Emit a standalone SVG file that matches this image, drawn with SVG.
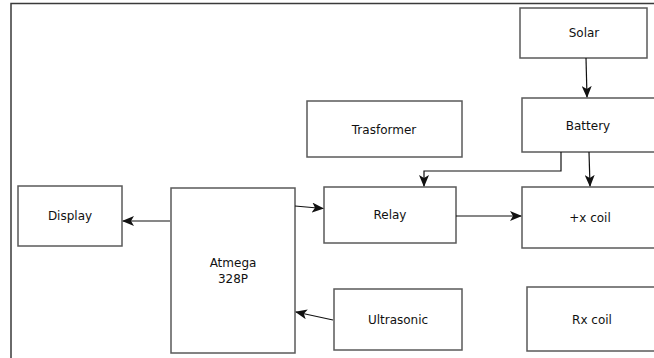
<svg xmlns="http://www.w3.org/2000/svg" width="654" height="358" viewBox="0 0 654 358">
<style>
.box{fill:#fff;stroke:#5a5a5a;stroke-width:1.5}
.t{font-family:"DejaVu Sans",Verdana,sans-serif;font-size:12px;fill:#111;text-anchor:middle;dominant-baseline:central}
.c{fill:none;stroke:#111;stroke-width:1.2}
</style>
<defs>
<marker id="ah" viewBox="0 0 12 10" refX="11" refY="5" markerWidth="12" markerHeight="10" markerUnits="userSpaceOnUse" orient="auto">
<path d="M0,0 L12,5 L0,10 L3,5 Z" fill="#111"/>
</marker>
</defs>
<rect width="654" height="358" fill="#fff"/>
<path d="M11,358 V3.5 H654" fill="none" stroke="#3a3a3a" stroke-width="1.5"/>
<g id="solar"><rect class="box" x="520" y="8" width="127" height="50"/><text class="t" x="584" y="33">Solar</text></g>
<g id="battery"><rect class="box" x="522" y="98" width="140" height="54"/><text class="t" x="588" y="126">Battery</text></g>
<g id="trasformer"><rect class="box" x="307" y="101" width="155" height="56"/><text class="t" x="384" y="130">Trasformer</text></g>
<g id="display"><rect class="box" x="18" y="186" width="104" height="60"/><text class="t" x="70" y="216">Display</text></g>
<g id="atmega"><rect class="box" x="171" y="188" width="124" height="165"/><text class="t" x="233" y="263">Atmega</text><text class="t" x="233" y="279">328P</text></g>
<g id="relay"><rect class="box" x="324" y="187" width="132" height="56"/><text class="t" x="390" y="215">Relay</text></g>
<g id="xcoil"><rect class="box" x="522" y="187" width="140" height="61"/><text class="t" x="590" y="218">+x coil</text></g>
<g id="ultrasonic"><rect class="box" x="334" y="289" width="128" height="61"/><text class="t" x="398" y="320">Ultrasonic</text></g>
<g id="rxcoil"><rect class="box" x="527" y="287" width="140" height="64"/><text class="t" x="592" y="320">Rx coil</text></g>
<g id="connectors">
<path class="c" d="M586,58 L587,97" marker-end="url(#ah)"/>
<path class="c" d="M589,152 L590,186" marker-end="url(#ah)"/>
<path class="c" d="M561,152 V171 H424 V186" marker-end="url(#ah)"/>
<path class="c" d="M295,206 L323,208.5" marker-end="url(#ah)"/>
<path class="c" d="M456,216 H521" marker-end="url(#ah)"/>
<path class="c" d="M170,221 H123" marker-end="url(#ah)"/>
<path class="c" d="M333,320 L296,312" marker-end="url(#ah)"/>
</g>
</svg>
